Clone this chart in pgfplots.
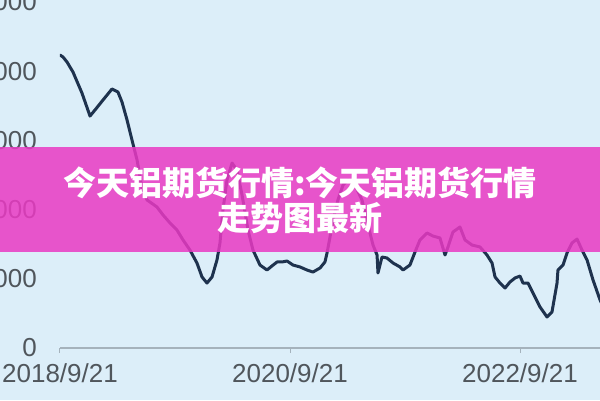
\documentclass[border=0pt]{standalone}
\usepackage{pgfplots}
\pgfplotsset{compat=1.18}
\usepackage{fontspec}
\setmainfont{Liberation Sans}
\newfontfamily\cjk{Noto Sans CJK SC}
\definecolor{bgblue}{RGB}{220,238,249}
\definecolor{linecol}{RGB}{30,50,78}
\definecolor{ticktext}{RGB}{80,86,92}
\definecolor{axiscol}{RGB}{165,178,188}
\definecolor{banner}{RGB}{234,58,196}
\pgfplotstableread{
year value
2018.720 42340
2018.746 42050
2018.781 41330
2018.833 39880
2018.911 36850
2018.981 33520
2019.024 34390
2019.094 35840
2019.172 37430
2019.224 36990
2019.259 35550
2019.303 32950
2019.346 30060
2019.390 27170
2019.433 23120
2019.477 21390
2019.563 20380
2019.616 19220
2019.677 18060
2019.737 17050
2019.790 15610
2019.850 14160
2019.911 12280
2019.955 10260
2019.998 9390
2020.042 10260
2020.085 12720
2020.111 15170
2020.137 19940
2020.172 24280
2020.216 26730
2020.259 25720
2020.303 22110
2020.355 17050
2020.398 14160
2020.459 11990
2020.520 11270
2020.563 11850
2020.607 12430
2020.650 12430
2020.694 12570
2020.746 11990
2020.807 11710
2020.868 11270
2020.920 10980
2020.981 11560
2021.024 12430
2021.042 13730
2021.068 16040
2021.094 18500
2021.137 21390
2021.181 23550
2021.224 24280
2021.285 23550
2021.346 21390
2021.398 17770
2021.442 14880
2021.477 13440
2021.485 10840
2021.520 13150
2021.563 13010
2021.616 12280
2021.677 11710
2021.703 11270
2021.763 11990
2021.807 13870
2021.850 15610
2021.911 16620
2021.963 16180
2022.024 15900
2022.068 13440
2022.094 14600
2022.137 16760
2022.198 17490
2022.242 15610
2022.303 14880
2022.372 14600
2022.433 13440
2022.477 12280
2022.503 10260
2022.546 9390
2022.590 8670
2022.633 9540
2022.677 10120
2022.720 10400
2022.746 9390
2022.790 9390
2022.833 7950
2022.894 5930
2022.955 4480
2022.998 5200
2023.042 9390
2023.050 11270
2023.094 11990
2023.129 13730
2023.172 15170
2023.216 15750
2023.259 14160
2023.303 12720
2023.355 9830
2023.416 6940
2023.459 5490
}\aluminium
\begin{document}
\begin{tikzpicture}
\clip (0,0) rectangle (600pt,400pt);
\fill[bgblue] (0,0) rectangle (600pt,400pt);
\begin{axis}[
  at={(60pt,52pt)}, anchor=south west,
  scale only axis, width=540pt, height=346pt,
  xmin=2018.72, xmax=2023.4157, ymin=0, ymax=50000,
  axis lines*=left,
  x axis line style={axiscol, line width=1.2pt},
  y axis line style={draw=none},
  xtick={2018.72,2020.72,2022.72},
  xticklabels={2018/9/21,2020/9/21,2022/9/21},
  ytick={0,10000,20000,30000,40000,50000},
  yticklabels={0,10000,20000,30000,40000,50000},
  tick align=outside, major tick length=5pt,
  xtick style={axiscol, line width=1pt},
  ytick style={draw=none},
  tick label style={font=\fontsize{26}{26}\selectfont, text=ticktext},
  xticklabel style={anchor=north, inner sep=0pt, yshift=-10pt},
  yticklabel style={anchor=east, inner sep=0pt, xshift=-18pt},
  clip=true,
]
\addplot[linecol, line width=3pt, line join=round, line cap=round] table[x=year,y=value] {\aluminium};
\end{axis}
\fill[banner, fill opacity=0.85] (0,148pt) rectangle (600pt,253pt);
\node[text=white, font=\cjk\bfseries\fontsize{33}{33}\selectfont] at (300pt,217pt) {今天铝期货行情:今天铝期货行情};
\node[text=white, font=\cjk\bfseries\fontsize{33}{33}\selectfont] at (300pt,182pt) {走势图最新};
\end{tikzpicture}
\end{document}
